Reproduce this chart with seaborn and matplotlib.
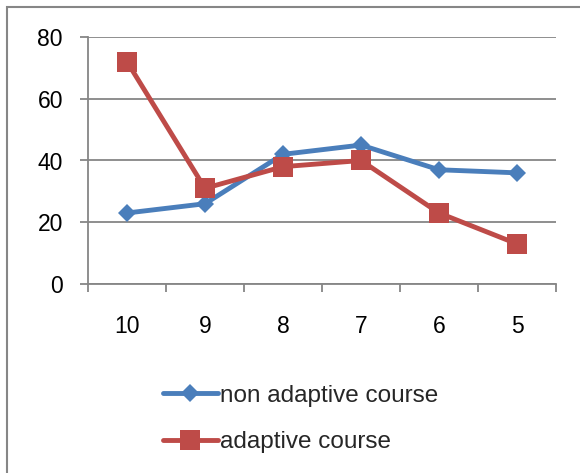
import numpy as np
import pandas as pd
import matplotlib
matplotlib.use("Agg")
import matplotlib.pyplot as plt
from matplotlib.ticker import FixedLocator
from matplotlib.patches import Rectangle
import seaborn as sns

# Scores per grade for the two course variants
grades = ["10", "9", "8", "7", "6", "5"]
non_adaptive = [23, 26, 42, 45, 37, 36]
adaptive = [72, 31, 38, 40, 23, 13]
series_names = ["non adaptive course", "adaptive course"]
y_ticks = [0, 20, 40, 60, 80]

df = pd.DataFrame({
    "grade": grades * 2,
    "value": non_adaptive + adaptive,
    "series": [series_names[0]] * len(grades) + [series_names[1]] * len(grades),
})

sns.set_theme(style="white")
plt.rcParams["font.family"] = ["Liberation Sans", "DejaVu Sans"]

W, H = 580, 473
fig = plt.figure(figsize=(W / 100, H / 100), dpi=100)
ax = fig.add_axes([88 / W, 1 - 284 / H, (556 - 88) / W, (284 - 37) / H])

grid_col = "#868686"
colors = {series_names[0]: "#4A7EBB", series_names[1]: "#BE4B48"}
fs = 16.5

sns.lineplot(
    data=df, x="grade", y="value", hue="series", style="series",
    palette=colors, markers=["D", "s"], dashes=False, sort=False,
    linewidth=3.5, markersize=9.5, markeredgewidth=0, ax=ax,
)
# square markers are a touch larger than diamonds
for line in ax.get_lines():
    if line.get_marker() == "s":
        line.set_markersize(14)

ax.set_xlim(-0.5, len(grades) - 0.5)
ax.set_ylim(0, 80)
ax.set_yticks(y_ticks)
ax.set_xlabel("")
ax.set_ylabel("")

ax.yaxis.grid(True, color=grid_col, linewidth=1.3)
ax.set_axisbelow(True)
for side in ["top", "right"]:
    ax.spines[side].set_visible(False)
for side in ["left", "bottom"]:
    ax.spines[side].set_color(grid_col)
    ax.spines[side].set_linewidth(1.3)

# category separators as outward ticks on the x axis
ax.xaxis.set_minor_locator(FixedLocator(np.arange(-0.5, len(grades), 1.0)))
ax.tick_params(axis="x", which="major", length=0, pad=22, labelsize=fs, colors="black")
ax.tick_params(axis="x", which="minor", bottom=True, length=6, width=1.3, color=grid_col)
ax.tick_params(axis="y", which="major", left=True, length=6, width=1.3, color=grid_col,
               pad=12, labelsize=fs, labelcolor="black")

handles, labels = ax.get_legend_handles_labels()
ax.legend(
    handles, labels, loc="upper left", bbox_to_anchor=(141 / W, 1 - 363 / H),
    bbox_transform=fig.transFigure, frameon=False, fontsize=17.5,
    handlelength=2.25, handletextpad=0.12, labelspacing=1.0,
)

# outer chart frame
fig.patches.append(Rectangle((7 / W, -0.1), 1.5, 1 - 7 / H + 0.1,
                             transform=fig.transFigure, fill=False,
                             edgecolor=grid_col, linewidth=1.5))

fig.savefig("out.png", dpi=100)
